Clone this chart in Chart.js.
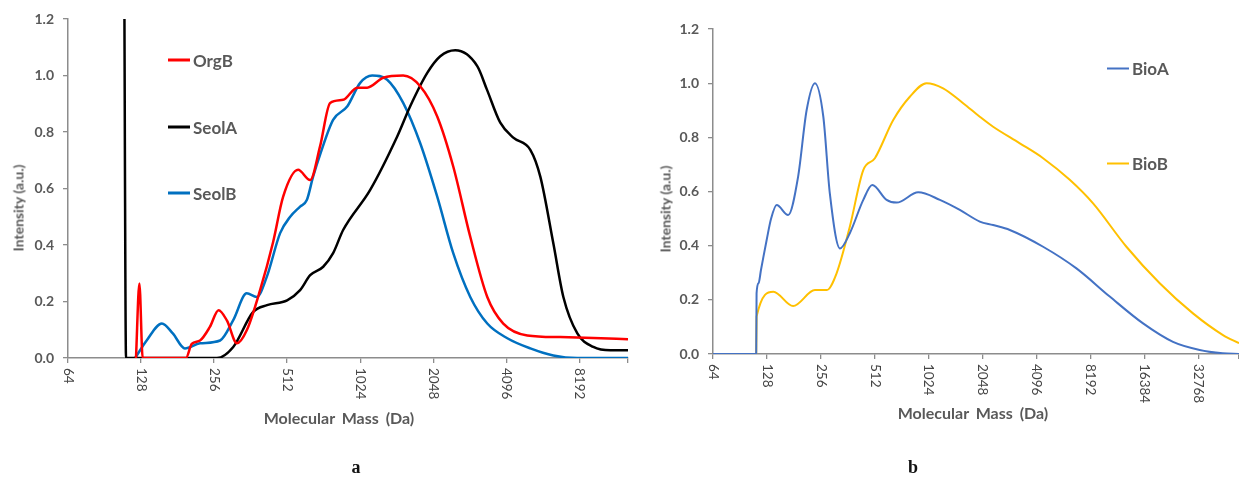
<!DOCTYPE html>
<html>
<head>
<meta charset="utf-8">
<script src="https://cdn.jsdelivr.net/npm/chart.js@4.4.1/dist/chart.umd.min.js"></script>
<style>
  body { margin: 0; background: #fff; width: 1239px; height: 479px; position: relative; overflow: hidden; font-family: Lato, "Open Sans", sans-serif; }
  canvas { position: absolute; top: 0; }
  .ytitle, .xtitle { position: absolute; color: #595959; font-weight: bold; white-space: nowrap; }
  .ytitle { font-size: 14px; transform: translate(-50%, -50%) rotate(-90deg); }
  .xtitle { font-size: 16px; transform: translate(-50%, -50%); word-spacing: 3px; }
  .cap { position: absolute; font: bold 18px "Liberation Serif", serif; color: #111; transform: translate(-50%, -50%); }
  .leg { position: absolute; display: flex; align-items: center; font-size: 17px; font-weight: bold; color: #595959; transform: translateY(-50%); }
  .leg i { display: inline-block; width: 22px; height: 2.5px; margin-right: 3px; }
</style>
</head>
<body>
<canvas id="chartA" width="640" height="440" style="left:0"></canvas>
<canvas id="chartB" width="589" height="440" style="left:650px"></canvas>

<div class="ytitle" style="left:18px; top:208px">Intensity (a.u.)</div>
<div class="ytitle" style="left:665px; top:209px">Intensity (a.u.)</div>
<div class="xtitle" style="left:339px; top:417px">Molecular Mass (Da)</div>
<div class="xtitle" style="left:973px; top:412px">Molecular Mass (Da)</div>
<div class="cap" style="left:356px; top:467px">a</div>
<div class="cap" style="left:913px; top:467px">b</div>

<div class="leg" style="left:168px; top:60px"><i style="background:#ff0000"></i>OrgB</div>
<div class="leg" style="left:168px; top:127px"><i style="background:#000000"></i>SeolA</div>
<div class="leg" style="left:168px; top:193px"><i style="background:#0070c0"></i>SeolB</div>
<div class="leg" style="left:1107px; top:68px"><i style="background:#4472c4; height:2px"></i>BioA</div>
<div class="leg" style="left:1107px; top:163px"><i style="background:#ffc000; height:2px"></i>BioB</div>

<script>
// ---- panel a ----
const massTicksA = [64, 128, 256, 512, 1024, 2048, 4096, 8192];
const intensityTicks = [0, 0.2, 0.4, 0.6, 0.8, 1.0, 1.2];

const orgBMass = [122, 126, 130, 196, 207, 224, 246, 267, 289, 318, 349, 396, 448, 493, 568, 637, 700, 770, 871, 995, 1094, 1274, 1540, 1810, 2127, 2476, 2910, 3420, 3981, 5000, 6840, 9357, 13000];
const orgBInt  = [0, 0.264, 0, 0, 0.05, 0.062, 0.11, 0.169, 0.133, 0.052, 0.098, 0.24, 0.41, 0.571, 0.666, 0.63, 0.75, 0.903, 0.914, 0.957, 0.957, 0.992, 1.0, 0.962, 0.855, 0.678, 0.429, 0.216, 0.122, 0.08, 0.074, 0.071, 0.066];

const seolAMass = [109, 111, 263, 307, 371, 423, 512, 579, 637, 721, 792, 871, 1126, 1455, 1646, 1935, 2189, 2524, 3110, 3409, 3869, 4378, 5145, 5657, 6400, 7040, 8038, 9357, 10997, 13000];
const seolAInt  = [1.5, 0, 0, 0.039, 0.163, 0.187, 0.204, 0.24, 0.293, 0.323, 0.371, 0.453, 0.595, 0.784, 0.891, 1.009, 1.068, 1.089, 1.033, 0.95, 0.833, 0.78, 0.737, 0.642, 0.406, 0.216, 0.087, 0.039, 0.027, 0.027];

const seolBMass = [121, 135, 156, 173, 194, 224, 271, 307, 349, 384, 422, 479, 527, 579, 617, 655, 700, 792, 905, 1024, 1147, 1323, 1540, 1810, 2127, 2476, 2910, 3420, 4136, 5145, 6400, 8038, 13000];
const seolBInt  = [0, 0.062, 0.122, 0.087, 0.034, 0.052, 0.062, 0.134, 0.229, 0.216, 0.287, 0.442, 0.50, 0.536, 0.559, 0.642, 0.72, 0.843, 0.89, 0.974, 1.0, 0.985, 0.903, 0.76, 0.571, 0.371, 0.216, 0.122, 0.07, 0.034, 0.009, 0, 0];

// ---- panel b ----
const massTicksB = [64, 128, 256, 512, 1024, 2048, 4096, 8192, 16384, 32768];

const bioAMass = [64, 111.5, 112, 115, 118.5, 122, 127.5, 135, 145, 168, 191, 213, 237, 264, 287, 327, 371, 441, 495, 595, 677, 893, 1180, 1524, 1970, 2338, 2896, 4442, 6817, 10458, 16039, 23562, 33200, 44580, 55000];
const bioAInt  = [0, 0, 0.224, 0.262, 0.31, 0.355, 0.421, 0.5, 0.55, 0.513, 0.655, 0.90, 1.0, 0.876, 0.593, 0.39, 0.446, 0.569, 0.624, 0.569, 0.559, 0.597, 0.569, 0.532, 0.489, 0.476, 0.458, 0.396, 0.316, 0.212, 0.113, 0.045, 0.015, 0.003, 0];

const bioBMass = [64, 111.5, 112, 139, 179, 237, 276, 313, 371, 441, 512, 648, 802, 994, 1230, 1590, 1970, 2338, 3293, 4442, 6255, 8441, 12953, 19866, 30451, 44770, 55000];
const bioBInt  = [0, 0, 0.138, 0.23, 0.177, 0.236, 0.236, 0.298, 0.47, 0.679, 0.723, 0.864, 0.95, 1.0, 0.981, 0.926, 0.876, 0.839, 0.778, 0.723, 0.643, 0.556, 0.396, 0.261, 0.15, 0.07, 0.04];

const gray = '#595959';
const axisGray = '#8c8c8c';

function pairs(xs, ys) {
  return xs.map((x, i) => ({ x: x, y: ys[i] }));
}

function series(xs, ys, color, width) {
  return {
    data: pairs(xs, ys),
    borderColor: color,
    borderWidth: width,
    pointRadius: 0,
    cubicInterpolationMode: 'monotone',
    fill: false
  };
}

// mass labels run top-to-bottom under each tick
const verticalMassLabels = {
  id: 'verticalMassLabels',
  afterDraw(chart, args, opts) {
    const ctx = chart.ctx;
    const x = chart.scales.x;
    ctx.save();
    ctx.font = '13.5px Lato';
    ctx.fillStyle = '#454545';
    ctx.textAlign = 'left';
    ctx.textBaseline = 'middle';
    opts.labels.forEach(v => {
      ctx.save();
      ctx.translate(x.getPixelForValue(v), x.top + 10);
      ctx.rotate(Math.PI / 2);
      ctx.fillText(String(v), 0, 0);
      ctx.restore();
    });
    ctx.restore();
  }
};

function makeChart(id, datasets, xMax, ticks, xHeight, yWidth, padTop, padRight) {
  return new Chart(document.getElementById(id), {
    type: 'line',
    data: { datasets: datasets },
    plugins: [verticalMassLabels],
    options: {
      responsive: false,
      animation: false,
      layout: { padding: { top: padTop, right: padRight, left: 0, bottom: 0 } },
      plugins: {
        legend: { display: false },
        tooltip: { enabled: false },
        verticalMassLabels: { labels: ticks }
      },
      scales: {
        x: {
          type: 'logarithmic',
          min: 64,
          max: xMax,
          afterBuildTicks: s => { s.ticks = ticks.concat([xMax]).map(v => ({ value: v })); },
          afterFit: s => { s.height = xHeight; },
          ticks: { display: false },
          grid: { drawOnChartArea: false, drawTicks: true, tickLength: 5, color: axisGray, lineWidth: 1.3 },
          border: { display: true, color: axisGray, width: 1.5 }
        },
        y: {
          min: 0,
          max: 1.2,
          afterBuildTicks: s => { s.ticks = intensityTicks.map(v => ({ value: v })); },
          afterFit: s => { s.width = yWidth; },
          ticks: {
            callback: v => Number(v).toFixed(1),
            color: gray,
            font: { family: 'Lato', size: 14, weight: 'bold' },
            padding: 9
          },
          grid: { drawOnChartArea: false, drawTicks: true, tickLength: 5, color: axisGray, lineWidth: 1.3 },
          border: { display: true, color: axisGray, width: 1.5 }
        }
      }
    }
  });
}

makeChart('chartA', [
  series(orgBMass, orgBInt, '#ff0000', 2.5),
  series(seolAMass, seolAInt, '#000000', 2.5),
  series(seolBMass, seolBInt, '#0070c0', 2.5)
], 13000, massTicksA, 82, 68, 19, 12);

makeChart('chartB', [
  series(bioAMass, bioAInt, '#4472c4', 2),
  series(bioBMass, bioBInt, '#ffc000', 2)
], 55000, massTicksB, 86, 63, 29, 0);
</script>
</body>
</html>
